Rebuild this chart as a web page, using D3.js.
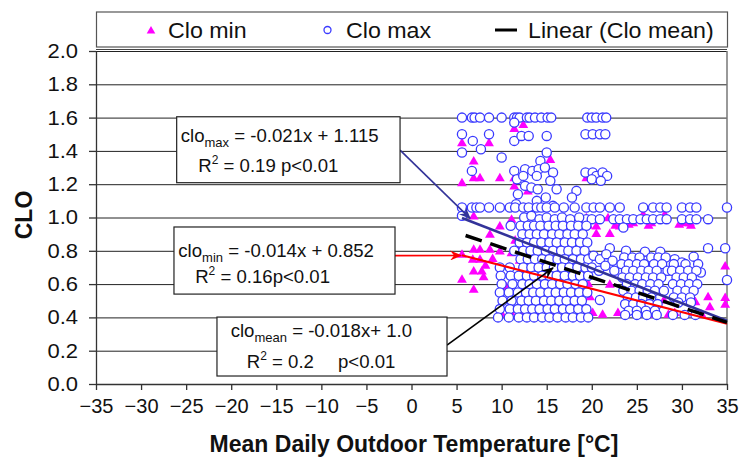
<!DOCTYPE html>
<html>
<head>
<meta charset="utf-8">
<script src="https://cdn.jsdelivr.net/npm/d3@7"></script>
<style>
  body { margin: 0; background: #fff; }
  svg text { font-family: "Liberation Sans", Arial, sans-serif; fill: #111; }
</style>
</head>
<body>
<div id="chart"></div>
<script>
// Axis ticks
const xTicks = [-35, -30, -25, -20, -15, -10, -5, 0, 5, 10, 15, 20, 25, 30, 35];
const yTicks = [0, 0.2, 0.4, 0.6, 0.8, 1.0, 1.2, 1.4, 1.6, 1.8, 2.0];

// Clo max observations [temperature, clo]
const cloMax = [
  [5.6,1.6],[6.7,1.6],[7.0,1.6],[7.6,1.6],[8.6,1.6],[10.0,1.6],[11.4,1.6],[11.7,1.6],[12.0,1.6],[12.8,1.6],
  [13.1,1.6],[13.7,1.6],[14.4,1.6],[15.1,1.6],[15.5,1.6],[19.5,1.6],[20.0,1.6],[20.5,1.6],[21.2,1.6],[21.6,1.6],
  [11.4,1.57],[11.4,1.46],[5.6,1.5],[8.6,1.5],[12.2,1.49],[13.0,1.49],[15.0,1.49],[19.3,1.5],[20.1,1.5],[20.9,1.5],[21.5,1.5],
  [6.8,1.46],[7.7,1.41],[5.6,1.39],[15.0,1.39],[10.0,1.36],
  [14.3,1.34],[6.7,1.28],[11.4,1.28],[12.6,1.29],[13.4,1.28],[14.1,1.29],[14.8,1.3],[15.7,1.27],[11.7,1.23],[12.4,1.25],
  [13.9,1.25],[15.4,1.22],[12.6,1.19],[13.3,1.18],[14.0,1.17],[11.8,1.14],[16.1,1.17],[18.3,1.16],[17.8,1.12],
  [19.3,1.27],[20.1,1.27],[20.5,1.25],[21.2,1.27],[21.7,1.25],[20.0,1.23],[21.0,1.22],
  [11.6,1.08],[13.9,1.1],[15.7,1.07],[14.9,1.12],
  [5.6,1.06],[6.7,1.06],[7.2,1.06],[7.6,1.06],[8.6,1.06],[9.8,1.06],[10.9,1.06],[11.5,1.06],[12.4,1.06],[13.0,1.06],
  [13.9,1.06],[14.4,1.06],[15.0,1.06],[15.9,1.06],[16.9,1.06],[18.1,1.06],[19.4,1.06],[20.2,1.06],[20.9,1.06],[22.0,1.06],
  [23.1,1.06],[25.7,1.06],[26.8,1.06],[27.6,1.06],[28.3,1.06],[30.0,1.06],[30.9,1.06],[31.6,1.06],[35.0,1.06],
  [5.6,1.01],
  [19.4,0.99],[20.0,0.99],[20.9,0.99],[22.4,0.99],[23.1,0.99],[23.9,0.99],[24.6,0.99],[25.4,0.99],[26.1,0.99],[26.8,0.99],
  [27.6,0.99],[28.3,0.99],[30.0,0.99],[30.9,0.99],[31.6,0.99],[32.9,0.99],[23.5,0.94],
  [12.5,1.0],[13.3,1.01],[14.2,0.99],[15.0,1.0],[15.9,0.99],[16.7,1.0],[17.6,0.99],[18.6,1.0],
  [11.0,0.95],[12.1,0.95],[12.9,0.95],[13.6,0.95],[14.3,0.95],[15.2,0.95],[16.0,0.95],[16.8,0.95],[17.7,0.95],[18.5,0.95],[19.4,0.95],
  [12.3,0.9],[13.1,0.9],[13.9,0.9],[14.7,0.9],[15.6,0.9],[16.4,0.9],[17.3,0.9],[18.1,0.9],[19.0,0.9],
  [12.0,0.85],[12.8,0.85],[13.6,0.85],[14.4,0.85],[15.3,0.85],[16.1,0.85],[17.0,0.85],[17.8,0.85],[18.7,0.85],[19.5,0.85],
  [11.4,0.8],[12.4,0.8],[13.2,0.8],[14.0,0.8],[14.9,0.8],[15.7,0.8],[16.6,0.8],[17.4,0.8],[18.3,0.8],[19.2,0.8],
  [12.1,0.75],[12.9,0.75],[13.7,0.75],[14.5,0.75],[15.3,0.75],[16.2,0.75],[17.0,0.75],[17.9,0.75],[18.8,0.75],[19.6,0.75],
  [9.8,0.7],[10.9,0.7],[12.4,0.7],[13.3,0.7],[14.1,0.7],[15.0,0.7],[15.8,0.7],[16.7,0.7],[17.5,0.7],[18.4,0.7],[19.3,0.7],
  [9.9,0.65],[11.0,0.65],[11.9,0.65],[12.8,0.65],[13.6,0.65],[14.5,0.65],[15.3,0.65],[16.1,0.65],[17.0,0.65],[17.9,0.65],[18.7,0.65],[19.6,0.65],
  [10.0,0.6],[11.2,0.6],[12.3,0.6],[13.1,0.6],[13.9,0.6],[14.8,0.6],[15.6,0.6],[16.5,0.6],[17.3,0.6],[18.2,0.6],[19.0,0.6],
  [9.8,0.55],[10.8,0.55],[11.8,0.55],[12.7,0.55],[13.5,0.55],[14.3,0.55],[15.2,0.55],[16.0,0.55],[16.9,0.55],[17.7,0.55],[18.6,0.55],[19.5,0.55],
  [10.1,0.5],[11.1,0.5],[12.2,0.5],[13.0,0.5],[13.8,0.5],[14.7,0.5],[15.5,0.5],[16.4,0.5],[17.2,0.5],[18.1,0.5],[18.9,0.5],
  [9.8,0.45],[10.9,0.45],[11.8,0.45],[12.6,0.45],[13.4,0.45],[14.2,0.45],[15.1,0.45],[15.9,0.45],[16.8,0.45],[17.6,0.45],[18.5,0.45],[19.4,0.45],
  [9.6,0.4],[10.8,0.4],[11.9,0.4],[12.8,0.4],[13.6,0.4],[14.5,0.4],[15.3,0.4],[16.2,0.4],[17.1,0.4],[17.9,0.4],[18.8,0.4],[19.6,0.4],
  [22.0,0.815],[23.8,0.8],[25.9,0.795],[27.6,0.795],[29.2,0.75],[30.0,0.73],[31.3,0.765],[32.9,0.815],[34.8,0.815],[35.0,0.625],[32.1,0.67],[31.8,0.72],
  [20.2,0.77],[20.9,0.75],[21.6,0.78],[22.3,0.74],[20.0,0.7],[20.8,0.68],[21.5,0.71],[22.5,0.68],[20.9,0.505],
  [23.6,0.76],[24.5,0.76],[25.3,0.76],[26.6,0.76],[27.4,0.76],[28.2,0.76],
  [23.3,0.72],[24.1,0.72],[25.0,0.72],[25.8,0.72],[26.9,0.72],[27.8,0.72],
  [23.8,0.68],[24.6,0.68],[25.5,0.68],[26.3,0.68],[27.2,0.68],[28.4,0.68],
  [23.4,0.64],[24.2,0.64],[25.1,0.64],[26.0,0.64],[26.8,0.64],[27.7,0.64],
  [23.9,0.6],[24.8,0.6],[25.6,0.6],[26.5,0.6],[27.4,0.6],
  [23.5,0.56],[24.4,0.56],[25.3,0.56],[26.2,0.56],[27.0,0.56],[28.0,0.56],
  [24.0,0.52],[24.9,0.52],[25.7,0.52],[26.6,0.52],
  [23.7,0.48],[24.6,0.48],[25.5,0.48],[26.4,0.48],[27.3,0.48],
  [24.1,0.44],[25.0,0.44],[26.0,0.44],[27.0,0.44],
  [23.7,0.415],[25.0,0.415],[26.1,0.415],[27.2,0.415],[29.0,0.415],[30.3,0.415],[31.5,0.415],
  [29.1,0.72],[30.4,0.72],[28.9,0.68],[29.8,0.68],[30.7,0.68],[31.6,0.68],[29.4,0.64],[30.2,0.64],[31.1,0.64],
  [29.0,0.6],[29.9,0.6],[30.8,0.6],[31.7,0.6],[29.5,0.56],[30.4,0.56],[31.3,0.56],[29.1,0.52],[30.0,0.52],[30.9,0.52],
  [29.6,0.49],[31.0,0.49]
];

// Clo min observations [temperature, clo]
const cloMin = [
  [11.4,1.53],[12.4,1.555],[15.0,1.6],[5.6,1.445],[8.6,1.445],[15.4,1.345],[6.9,1.335],
  [5.6,1.205],[6.9,1.235],[7.6,1.235],[9.8,1.235],[11.4,1.235],[11.4,1.185],[12.9,1.155],[19.4,1.235],[20.5,1.235],
  [6.9,1.005],[11.1,0.985],[9.8,0.945],[8.7,0.895],
  [19.4,0.995],[20.5,0.945],[21.8,0.995],[23.1,0.945],[24.6,0.965],[25.7,1.015],[26.6,0.965],[28.1,1.015],[30.2,0.965],[30.9,0.965],
  [19.6,0.95],[22.6,0.95],[24.1,0.955],[26.3,0.95],[29.7,0.955],[31.0,0.95],
  [6.9,0.805],[7.6,0.805],[8.7,0.805],[9.8,0.795],[11.1,0.785],[5.6,0.775],[6.8,0.745],[7.6,0.745],
  [6.9,0.675],[7.8,0.675],[8.2,0.71],[9.0,0.75],[8.0,0.64],[5.6,0.625],[6.9,0.565],[11.1,0.605],
  [11.5,0.86],[11.8,0.8],[12.0,0.74],[10.5,0.58],[13.5,0.88],[16.8,0.75],[20.5,0.9],[22.0,0.9],
  [10.0,0.42],[11.0,0.43],[12.5,0.42],[14.0,0.42],[15.8,0.42],[17.5,0.42],[19.3,0.42],[20.1,0.425],[21.2,0.415],[22.9,0.425],
  [25.1,0.485],[27.0,0.415],[28.5,0.415],[29.2,0.425],[30.3,0.535],[31.5,0.49],[32.2,0.415],[32.9,0.52],[33.1,0.46],
  [34.8,0.705],[34.8,0.515],[34.8,0.475],[22.0,0.595],[19.6,0.6],[19.8,0.52],[19.5,0.7],[24.0,0.5],[26.5,0.45],[28.0,0.5],[25.0,0.45]
];

// Linear fits: clo = slope * t + intercept, drawn over [tStart, tEnd]
const fitNames = ['max', 'min', 'mean'];
const fitSlopes = [-0.021, -0.014, -0.018];
const fitIntercepts = [1.115, 0.852, 1.0];
const fitStart = [5.6, 5.6, 6.0];
const fitEnd = [35, 35, 35];

const width = 740, height = 459;
const margin = {top: 51, right: 13, bottom: 75, left: 96};

const svg = d3.select('#chart').append('svg')
    .attr('width', width)
    .attr('height', height);

const x = d3.scaleLinear().domain([-35, 35]).range([margin.left, width - margin.right]);
const y = d3.scaleLinear().domain([0, 2]).range([height - margin.bottom, margin.top]);

// Arrow heads
const defs = svg.append('defs');
[['arrowNavy', '#333399'], ['arrowRed', '#ff0000'], ['arrowBlack', '#000']].forEach(([id, c]) => {
  defs.append('marker')
      .attr('id', id)
      .attr('viewBox', '0 0 12 10')
      .attr('refX', 11).attr('refY', 5)
      .attr('markerWidth', 12).attr('markerHeight', 10)
      .attr('markerUnits', 'userSpaceOnUse')
      .attr('orient', 'auto')
    .append('path')
      .attr('d', 'M0,0 L12,5 L0,10 L4,5 Z')
      .attr('fill', c);
});

// Gridlines
svg.append('g')
    .attr('transform', `translate(${margin.left},0)`)
    .call(d3.axisLeft(y).tickValues(yTicks.filter(d => d > 0)).tickSize(-(x.range()[1] - x.range()[0])).tickFormat(''))
    .call(g => g.select('.domain').remove())
    .call(g => g.selectAll('line').attr('stroke', '#222'));

// Plot border right and top
svg.append('line')
    .attr('x1', x(35)).attr('x2', x(35)).attr('y1', y(2)).attr('y2', y(0))
    .attr('stroke', '#777').attr('stroke-width', 1.5);
svg.append('line')
    .attr('x1', x(-35)).attr('x2', x(35)).attr('y1', y(2) - 1.5).attr('y2', y(2) - 1.5)
    .attr('stroke', '#444');

// Axes
const xAxis = d3.axisBottom(x).tickValues(xTicks).tickSize(6).tickPadding(9).tickSizeOuter(0);
const yAxis = d3.axisLeft(y).tickValues(yTicks).tickSize(7).tickPadding(11).tickFormat(d3.format('.1f')).tickSizeOuter(0);

svg.append('g')
    .attr('transform', `translate(0,${y(0)})`)
    .call(xAxis)
    .call(g => g.selectAll('path,line').attr('stroke', '#333').attr('stroke-width', 1.3))
    .call(g => g.selectAll('text').attr('font-size', 20).attr('fill', '#111'));

svg.append('g')
    .attr('transform', `translate(${x(-35)},0)`)
    .call(yAxis)
    .call(g => g.selectAll('path,line').attr('stroke', '#333').attr('stroke-width', 1.3))
    .call(g => g.selectAll('text').attr('font-size', 20).attr('fill', '#111')
        .attr('transform', 'scale(1.1,1)').attr('x', -18 / 1.1));

// Axis titles
svg.append('text')
    .attr('x', 414).attr('y', 452)
    .attr('text-anchor', 'middle')
    .attr('font-size', 23).attr('font-weight', 'bold')
    .text('Mean Daily Outdoor Temperature [°C]');

svg.append('text')
    .attr('transform', `translate(32,215) rotate(-90)`)
    .attr('text-anchor', 'middle')
    .attr('font-size', 23).attr('font-weight', 'bold')
    .text('CLO');

// Marks
const tri = d3.symbol().type(d3.symbolTriangle).size(42);
svg.append('g').selectAll('path')
    .data(cloMin)
    .join('path')
    .attr('d', tri)
    .attr('transform', d => `translate(${x(d[0])},${y(d[1])})`)
    .attr('fill', '#ff00ff');

svg.append('g').selectAll('circle')
    .data(cloMax)
    .join('circle')
    .attr('cx', d => x(d[0]))
    .attr('cy', d => y(d[1]))
    .attr('r', 4.6)
    .attr('fill', '#fff')
    .attr('stroke', '#3a3aff')
    .attr('stroke-width', 1.3);

// Regression lines
const fitStyle = {
  max: {stroke: '#333399', width: 2.6, dash: null},
  min: {stroke: '#ff0000', width: 2, dash: null},
  mean: {stroke: '#000', width: 3.5, dash: '17,9'}
};
fitNames.forEach((name, i) => {
  const f = t => fitSlopes[i] * t + fitIntercepts[i];
  const s = fitStyle[name];
  svg.append('line')
      .attr('x1', x(fitStart[i])).attr('y1', y(f(fitStart[i])))
      .attr('x2', x(fitEnd[i])).attr('y2', y(f(fitEnd[i])))
      .attr('stroke', s.stroke)
      .attr('stroke-width', s.width)
      .attr('stroke-dasharray', s.dash);
});

// Annotation boxes (data coordinates)
const boxes = [
  {x0: -26.05, x1: -1.27, y0: 1.605, y1: 1.209, name: 'max', eq: ' = -0.021x + 1.115', r2: ' = 0.19 p<0.01', p: null,
   t1: [-25.6, 1.455], t2: [-23.65, 1.275], arrow: [[-1.27, 1.405], [6.5, 0.995]], color: '#333399', marker: 'arrowNavy'},
  {x0: -26.35, x1: -1.83, y0: 0.943, y1: 0.54, name: 'min', eq: ' = -0.014x + 0.852', r2: ' = 0.16p<0.01', p: null,
   t1: [-25.87, 0.765], t2: [-24.0, 0.605], arrow: [[-1.83, 0.771], [5.5, 0.772]], color: '#ff0000', marker: 'arrowRed'},
  {x0: -21.58, x1: 3.94, y0: 0.402, y1: 0.048, name: 'mean', eq: ' = -0.018x+ 1.0', r2: ' = 0.2', p: 'p<0.01',
   t1: [-20.06, 0.28], t2: [-18.28, 0.094], arrow: [[3.94, 0.234], [15.7, 0.697]], color: '#000', marker: 'arrowBlack'}
];

boxes.forEach(b => {
  svg.append('line')
      .attr('x1', x(b.arrow[0][0])).attr('y1', y(b.arrow[0][1]))
      .attr('x2', x(b.arrow[1][0])).attr('y2', y(b.arrow[1][1]))
      .attr('stroke', b.color).attr('stroke-width', 1.6)
      .attr('marker-end', `url(#${b.marker})`);

  svg.append('rect')
      .attr('x', x(b.x0)).attr('y', y(b.y0))
      .attr('width', x(b.x1) - x(b.x0)).attr('height', y(b.y1) - y(b.y0))
      .attr('fill', '#fff').attr('stroke', '#222').attr('stroke-width', 1.2);

  const l1 = svg.append('text').attr('x', x(b.t1[0])).attr('y', y(b.t1[1])).attr('font-size', 18.6);
  l1.append('tspan').text('clo');
  l1.append('tspan').attr('dy', 5).attr('font-size', 13).text(b.name);
  l1.append('tspan').attr('dy', -5).text(b.eq);

  const l2 = svg.append('text').attr('x', x(b.t2[0])).attr('y', y(b.t2[1])).attr('font-size', 18.6);
  l2.append('tspan').text('R');
  l2.append('tspan').attr('dy', -8).attr('font-size', 12).text('2');
  l2.append('tspan').attr('dy', 8).text(b.r2);
  if (b.p) {
    svg.append('text').attr('x', x(-8.15)).attr('y', y(b.t2[1])).attr('font-size', 18.6).text(b.p);
  }
});

// Legend
const lg = svg.append('g');
lg.append('rect')
    .attr('x', x(-35) + 0.5).attr('y', 12)
    .attr('width', x(35) - x(-35)).attr('height', 35)
    .attr('fill', '#fff').attr('stroke', '#555').attr('stroke-width', 1.2);
lg.append('path')
    .attr('d', d3.symbol().type(d3.symbolTriangle).size(32))
    .attr('transform', 'translate(151,31)')
    .attr('fill', '#ff00ff');
lg.append('circle')
    .attr('cx', 327.5).attr('cy', 30).attr('r', 3.5)
    .attr('fill', '#fff').attr('stroke', '#3a3aff').attr('stroke-width', 1.3);
lg.append('line')
    .attr('x1', 495).attr('x2', 517).attr('y1', 30).attr('y2', 30)
    .attr('stroke', '#000').attr('stroke-width', 3);
[['Clo min', 168], ['Clo max', 346], ['Linear (Clo mean)', 528]].forEach(([label, lx]) => {
  lg.append('text')
      .attr('transform', `translate(${lx},38) scale(1.08,1)`)
      .attr('font-size', 21.5)
      .text(label);
});
</script>
</body>
</html>
